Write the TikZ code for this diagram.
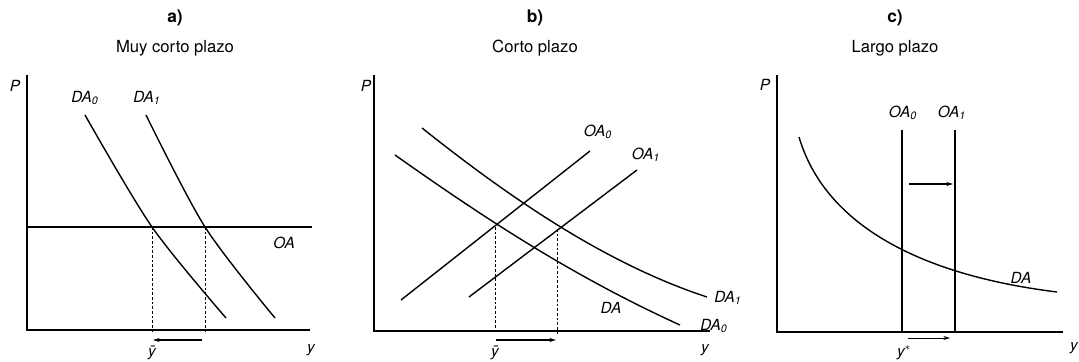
\documentclass[tikz,border=0pt]{standalone}
\usepackage{fontspec}
\setmainfont{TeX Gyre Heros}
\usetikzlibrary{arrows.meta,positioning}

\begin{document}
\begin{tikzpicture}[x=0.75pt,y=-0.75pt,>={Stealth[length=5pt,width=3pt]},
  every node/.style={font=\fontsize{12.5}{14}\selectfont,inner sep=1pt},
  curve/.style={line width=1.05pt},
  axis/.style={line width=1pt},
  guide/.style={dashed,line width=0.7pt,dash pattern=on 2pt off 1.5pt},
  lab/.style={font=\fontsize{11.5}{13}\selectfont\itshape},
  ttl/.style={font=\fontsize{13}{15}\selectfont\bfseries}]
\useasboundingbox (0,0) rectangle (1079,361);
% titles
\node[ttl] (ta) at (175,18) {a)};
\node (sa) at (175,48) {Muy corto plazo};
\node[ttl] (tb) at (535,18) {b)};
\node (sb) at (535,48) {Corto plazo};
\node[ttl] (tc) at (895,18) {c)};
\node (sc) at (895,48) {Largo plazo};

% panel a
\coordinate (aO) at (27,330);
\coordinate (aP) at (27,75);
\coordinate (aY) at (310,330);
\draw[axis] (aP) -- (aO) -- (aY);
\node[lab] (aPl) at (15,86) {P};
\node[lab] (aYl) at (311,350) {y};
\coordinate (oa0) at (27,227);
\coordinate (oa1) at (312,227);
\draw[curve] (oa0) -- (oa1);
\node[lab] (oal) at (284,243) {OA};
\draw[curve] plot[smooth] coordinates {(85,115) (152,227) (226,318)};
\draw[curve] plot[smooth] coordinates {(146,115) (205,227) (275,318)};
\node[lab] (ada0) at (85,98) {DA\textsubscript{0}};
\node[lab] (ada1) at (147,98) {DA\textsubscript{1}};
\coordinate (ae0) at (152,227);
\coordinate (ae1) at (205,227);
\coordinate (ab0) at (152,334);
\coordinate (ab1) at (205,334);
\draw[guide] (ae0) -- (ab0);
\draw[guide] (ae1) -- (ab1);
\coordinate (aa0) at (202,340);
\coordinate (aa1) at (153,340);
\draw[->,line width=0.8pt] (aa0) -- (aa1);
\node[lab] (aybar) at (152,353) {\=y};

% panel b
\coordinate (bO) at (374,331);
\coordinate (bP) at (374,75);
\coordinate (bY) at (710,331);
\draw[axis] (bP) -- (bO) -- (bY);
\node[lab] (bPl) at (366,86) {P};
\node[lab] (bYl) at (705,350) {y};
\draw[curve] (395,155) .. controls (480,215) and (570,275) .. (680,325);
\draw[curve] (422,128) .. controls (500,190) and (600,262) .. (707,297);
\coordinate (bs0a) at (401,300);
\coordinate (bs0b) at (590,151);
\coordinate (bs1a) at (469,297);
\coordinate (bs1b) at (637,170);
\draw[curve] (bs0a) -- (bs0b);
\draw[curve] (bs1a) -- (bs1b);
\node[lab] (boa0) at (598,132) {OA\textsubscript{0}};
\node[lab] (boa1) at (646,155) {OA\textsubscript{1}};
\node[lab] (bda) at (611,308) {DA};
\node[lab] (bda1) at (728,298) {DA\textsubscript{1}};
\node[lab] (bda0) at (714,326) {DA\textsubscript{0}};
\coordinate (be0) at (495,227);
\coordinate (be1) at (557,229);
\coordinate (bb0) at (495,334);
\coordinate (bb1) at (557,334);
\draw[guide] (be0) -- (bb0);
\draw[guide] (be1) -- (bb1);
\coordinate (ba0) at (496,340);
\coordinate (ba1) at (556,340);
\draw[->,line width=0.8pt] (ba0) -- (ba1);
\node[lab] (bybar) at (495,353) {\=y};

% panel c
\coordinate (cO) at (777,332);
\coordinate (cP) at (777,75);
\coordinate (cY) at (1063,332);
\draw[axis] (cP) -- (cO) -- (cY);
\node[lab] (cPl) at (765,85) {P};
\node[lab] (cYl) at (1074,348) {y};
\coordinate (cv0a) at (902,130);
\coordinate (cv0b) at (902,332);
\coordinate (cv1a) at (955,130);
\coordinate (cv1b) at (955,332);
\draw[curve] (cv0a) -- (cv0b);
\draw[curve] (cv1a) -- (cv1b);
\node[lab] (coa0) at (903,113) {OA\textsubscript{0}};
\node[lab] (coa1) at (952,113) {OA\textsubscript{1}};
\draw[curve] (799,137) .. controls (825,225) and (920,275) .. (1057,292);
\node[lab] (cda) at (1021,278) {DA};
\coordinate (ca0) at (909,184);
\coordinate (ca1) at (953,184);
\draw[->,line width=0.8pt] (ca0) -- (ca1);
\coordinate (cb0) at (908,338);
\coordinate (cb1) at (950,338);
\draw[->,line width=0.5pt] (cb0) -- (cb1);
\node[lab] (cystar) at (904,353) {y$^{\ast}$};
\end{tikzpicture}
\end{document}
